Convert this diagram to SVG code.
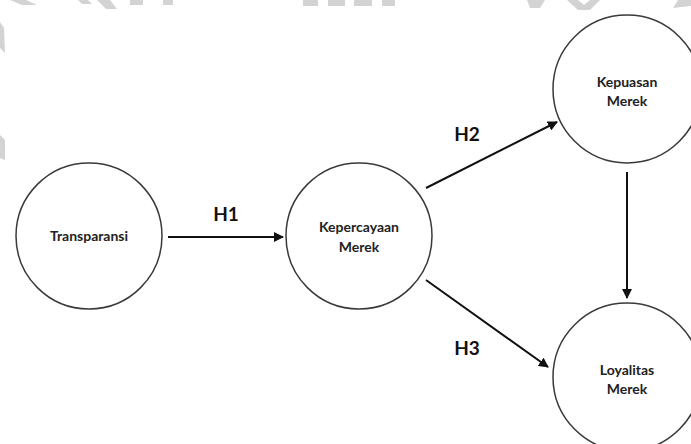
<svg xmlns="http://www.w3.org/2000/svg" width="691" height="444" viewBox="0 0 691 444">
<style>
.node{fill:#fff;stroke:#3a3a3a;stroke-width:1.5}
.lbl{font-family:Lato,"Open Sans",sans-serif;font-weight:bold;font-size:14px;fill:#222;text-anchor:middle}
.h{font-family:Lato,"Open Sans",sans-serif;font-weight:bold;font-size:19px;fill:#111;text-anchor:middle}
.edge{stroke:#111;stroke-width:2;fill:none;marker-end:url(#ah)}
.wm{fill:#d3d3d3}
</style>
<defs>
<marker id="ah" viewBox="0 0 10 10" refX="9" refY="5" markerWidth="5" markerHeight="5" orient="auto" markerUnits="strokeWidth">
<path d="M0,0 L10,5 L0,10 z" fill="#111"/>
</marker>
</defs>
<g id="watermark">
<polygon class="wm" points="10,0 26,0 37,5 22,5"/>
<polygon class="wm" points="78,0 88,0 92,4 82,4"/>
<polygon class="wm" points="97,0 110,0 117,9 106,9"/>
<rect class="wm" x="130" y="0" width="13" height="5"/>
<rect class="wm" x="163" y="0" width="10" height="5"/>
<polygon class="wm" points="0,22 4,28 5,53 0,48"/>
<polygon class="wm" points="0,135 5,140 5,160 0,158"/>
<rect class="wm" x="303" y="0" width="15" height="6"/>
<rect class="wm" x="328" y="0" width="17" height="6"/>
<rect class="wm" x="354" y="0" width="18" height="6"/>
<rect class="wm" x="382" y="0" width="13" height="6"/>
<polygon class="wm" points="527,0 545,0 540,8 530,8"/>
<polygon class="wm" points="567,0 578,0 584,5 590,0 600,0 590,10 578,10"/>
<polygon class="wm" points="678,0 691,0 691,6 673,8"/>
</g>
<g id="connectors">
<line class="edge" x1="168" y1="237" x2="283" y2="237"/>
<line class="edge" x1="426" y1="188" x2="557" y2="122"/>
<line class="edge" x1="426" y1="280" x2="548" y2="367"/>
<line class="edge" x1="627" y1="172" x2="627" y2="298"/>
<text class="h" x="226" y="221">H1</text>
<text class="h" x="467" y="141">H2</text>
<text class="h" x="467" y="355">H3</text>
</g>
<g id="transparansi">
<circle class="node" cx="89" cy="236" r="73"/>
<text class="lbl" x="89" y="241">Transparansi</text>
</g>
<g id="kepercayaan">
<circle class="node" cx="359" cy="236" r="73"/>
<text class="lbl" x="359" y="232">Kepercayaan</text>
<text class="lbl" x="359" y="252">Merek</text>
</g>
<g id="kepuasan">
<circle class="node" cx="627" cy="89" r="74"/>
<text class="lbl" x="627" y="87">Kepuasan</text>
<text class="lbl" x="627" y="106">Merek</text>
</g>
<g id="loyalitas">
<circle class="node" cx="627" cy="377" r="74"/>
<text class="lbl" x="627" y="375">Loyalitas</text>
<text class="lbl" x="627" y="394">Merek</text>
</g>
</svg>
